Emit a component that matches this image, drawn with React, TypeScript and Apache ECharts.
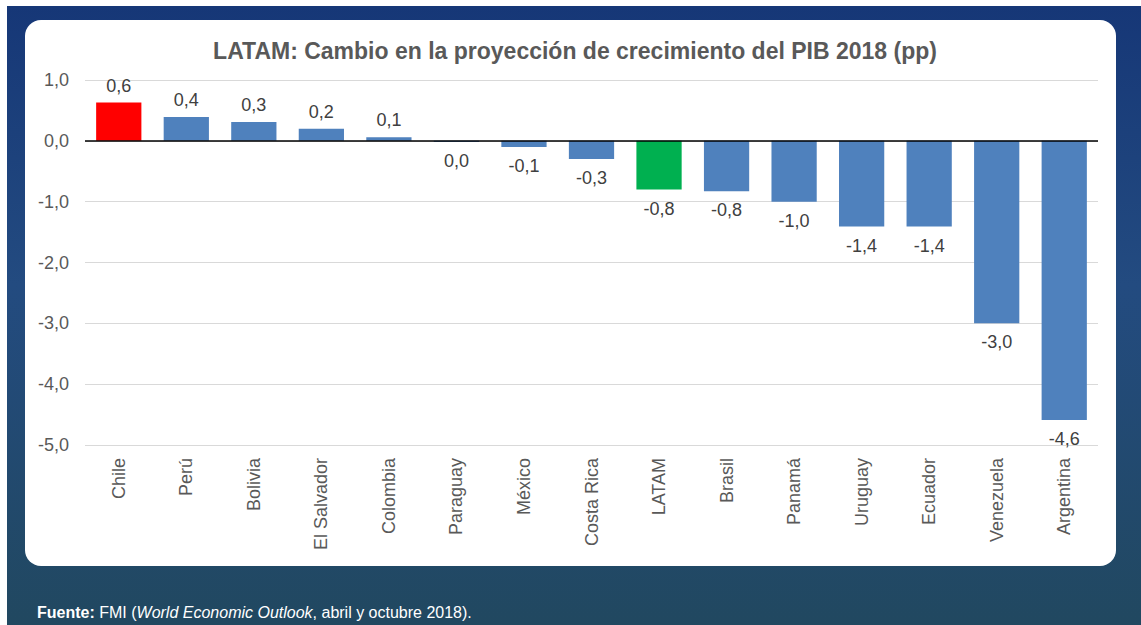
import React, { useEffect, useRef } from "react";
import * as echarts from "echarts";

const categories = ["Chile", "Perú", "Bolivia", "El Salvador", "Colombia", "Paraguay", "México", "Costa Rica", "LATAM", "Brasil", "Panamá", "Uruguay", "Ecuador", "Venezuela", "Argentina"];
const values = [0.63, 0.39, 0.31, 0.2, 0.06, -0.02, -0.1, -0.3, -0.8, -0.83, -1.0, -1.41, -1.41, -3.0, -4.59];
const barColors = ["#ff0000", "#4f81bd", "#4f81bd", "#4f81bd", "#4f81bd", "#4f81bd", "#4f81bd", "#4f81bd", "#00b050", "#4f81bd", "#4f81bd", "#4f81bd", "#4f81bd", "#4f81bd", "#4f81bd"];
const titleText = "LATAM: Cambio en la proyección de crecimiento del PIB 2018 (pp)";
const yMin = -5;
const yMax = 1;
const yInterval = 1;

const fmt = (v: number) => {
  let s = (Math.round(v * 10) / 10).toFixed(1);
  if (s === "-0.0") s = "0.0";
  return s.replace(".", ",");
};

export default function App() {
  const ref = useRef<HTMLDivElement>(null);
  useEffect(() => {
    const chart = echarts.init(ref.current!, null, { renderer: "svg" });
    const font = "'Liberation Sans', Arial, sans-serif";
    chart.setOption({
      animation: false,
      backgroundColor: "#ffffff",
      textStyle: { fontFamily: font },
      graphic: [
        {
          type: "rect",
          z: -10,
          shape: { x: 7, y: 6, width: 1134, height: 619 },
          style: {
            fill: new echarts.graphic.LinearGradient(0, 0, 0, 1, [
              { offset: 0, color: "#163777" },
              { offset: 0.45, color: "#234b80" },
              { offset: 1, color: "#214860" },
            ]),
          },
          silent: true,
        },
        {
          type: "rect",
          z: -9,
          shape: { x: 25, y: 20, width: 1091, height: 546, r: 16 },
          style: { fill: "#ffffff" },
          silent: true,
        },
        {
          type: "text",
          x: 37,
          y: 612,
          style: {
            text: "{b|Fuente:} FMI ({i|World Economic Outlook}, abril y octubre 2018).",
            fill: "#ffffff",
            font: `16px ${font}`,
            verticalAlign: "middle",
            rich: {
              b: { fontWeight: "bold", fontSize: 16, fill: "#ffffff", fontFamily: font },
              i: { fontStyle: "italic", fontSize: 16, fill: "#ffffff", fontFamily: font },
            },
          },
        },
      ],
      title: {
        text: titleText,
        left: 570,
        textAlign: "center",
        top: 34,
        textStyle: { fontSize: 23, fontWeight: "bold", color: "#595959", fontFamily: font },
      },
      grid: { left: 85, right: 43, top: 80, bottom: 180, containLabel: false },
      xAxis: {
        type: "category",
        data: categories,
        axisLine: { show: false },
        axisTick: { show: false },
        axisLabel: {
          rotate: 90,
          interval: 0,
          color: "#595959",
          fontSize: 18,
          fontFamily: font,
          margin: 13,
        },
        position: "bottom",
        offset: 0,
      },
      yAxis: {
        type: "value",
        min: yMin,
        max: yMax,
        interval: yInterval,
        axisLine: { show: false },
        axisTick: { show: false },
        splitLine: { lineStyle: { color: "#d9d9d9", width: 1 } },
        axisLabel: {
          color: "#595959",
          fontSize: 18,
          fontFamily: font,
          margin: 16,
          formatter: (v: number) => fmt(v),
        },
      },
      series: [
        {
          type: "bar",
          barCategoryGap: "33%",
          data: values.map((v, i) => ({
            value: v,
            itemStyle: { color: barColors[i] },
            label: {
              show: true,
              position: v >= 0 ? "top" : "bottom",
              distance: v >= 0 ? 8 : 10,
              formatter: fmt(v),
              color: "#404040",
              fontSize: 18,
              fontFamily: font,
            },
          })),
          markLine: {
            silent: true,
            symbol: "none",
            label: { show: false },
            lineStyle: { color: "#000000", width: 1.5, type: "solid" },
            data: [{ yAxis: 0 }],
          },
        },
      ],
    });
    return () => chart.dispose();
  }, []);
  return (
    <div
      ref={ref}
      style={{ position: "fixed", left: 0, top: 0, width: 1141, height: 625 }}
    />
  );
}
